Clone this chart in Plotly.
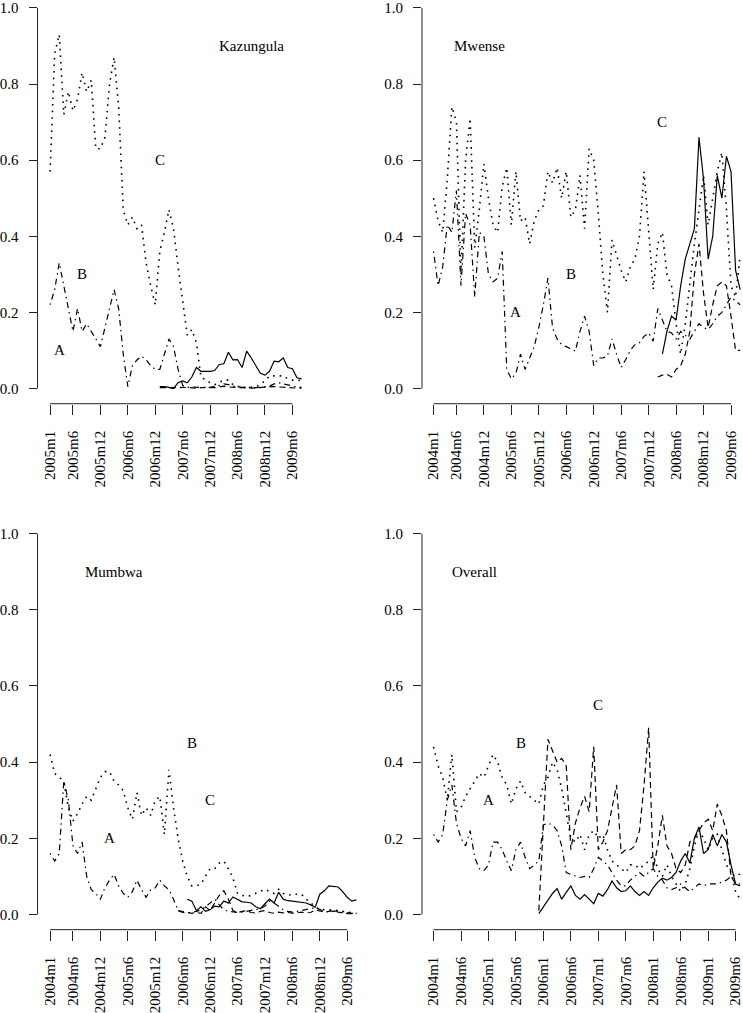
import plotly.graph_objects as go

W, H = 743, 1013

# ---------------- data (month index: 2004m1 = 0) ----------------
# Kazungula
kaz_start_dotted = 12
kaz_dotted = [0.57, 0.88, 0.93, 0.72, 0.78, 0.73, 0.76, 0.83, 0.78, 0.81,
              0.63, 0.63, 0.66, 0.80, 0.87, 0.74, 0.47, 0.43, 0.45, 0.42,
              0.43, 0.33, 0.27, 0.22, 0.36, 0.41, 0.47, 0.42, 0.32, 0.23,
              0.14, 0.155, 0.12, 0.03, 0.022, 0.015, 0.01, 0.015, 0.022, 0.022,
              0.01, 0.005, 0.005, 0.002, 0.003, 0.005, 0.01, 0.02, 0.033, 0.033,
              0.033, 0.033, 0.025, 0.022, 0.022, 0.02]
kaz_start_dotdash = 12
kaz_dotdash = [0.22, 0.26, 0.33, 0.27, 0.21, 0.15, 0.21, 0.15, 0.17, 0.15,
               0.13, 0.11, 0.16, 0.21, 0.26, 0.21, 0.09, 0.005, 0.06, 0.075,
               0.085, 0.075, 0.06, 0.05, 0.05, 0.09, 0.13, 0.11, 0.05, 0.008,
               0.003, 0.004, 0.003, 0.003, 0.002, 0.003, 0.005, 0.008, 0.012, 0.01,
               0.006, 0.004, 0.003, 0.003, 0.002, 0.002, 0.003, 0.004, 0.006, 0.012,
               0.015, 0.012, 0.009, 0.006, 0.004, 0.003]
kaz_start_solid = 36
kaz_solid = [0.005, 0.005, 0.003, 0.0, 0.015, 0.02, 0.015, 0.03, 0.055, 0.045,
             0.045, 0.045, 0.047, 0.063, 0.065, 0.095, 0.075, 0.076, 0.055, 0.098,
             0.08, 0.06, 0.04, 0.035, 0.045, 0.072, 0.07, 0.08, 0.055, 0.052,
             0.028, 0.025]
kaz_start_dashed = 36
kaz_dashed = [0.002, 0.002, 0.001, 0.001, 0.002, 0.003, 0.002, 0.001, 0.001, 0.002,
              0.003, 0.002, 0.002, 0.004, 0.006, 0.004, 0.003, 0.002, 0.002, 0.001,
              0.001, 0.002, 0.003, 0.004, 0.004, 0.005, 0.004, 0.003, 0.003, 0.002,
              0.001, 0.001]

# Mwense
mw_start_dotted = 0
mw_dotted = [0.50, 0.44, 0.41, 0.55, 0.74, 0.70, 0.30, 0.60, 0.71, 0.37,
             0.47, 0.59, 0.50, 0.43, 0.41, 0.53, 0.58, 0.43, 0.57, 0.44,
             0.45, 0.38, 0.44, 0.47, 0.48, 0.57, 0.54, 0.58, 0.50, 0.57,
             0.45, 0.47, 0.56, 0.42, 0.63, 0.60, 0.46, 0.30, 0.20, 0.39,
             0.35, 0.31, 0.28, 0.32, 0.34, 0.40, 0.57, 0.42, 0.26, 0.38,
             0.41, 0.30, 0.27, 0.17, 0.09, 0.17, 0.28, 0.38, 0.47, 0.56,
             0.43, 0.50, 0.57, 0.62, 0.47, 0.27, 0.24, 0.35]
mw_start_dotdash = 0
mw_dotdash = [0.36, 0.27, 0.32, 0.43, 0.41, 0.52, 0.27, 0.46, 0.43, 0.24,
              0.41, 0.40, 0.30, 0.28, 0.29, 0.36, 0.05, 0.025, 0.04, 0.09,
              0.05, 0.08, 0.11, 0.16, 0.22, 0.29, 0.16, 0.13, 0.115, 0.11,
              0.105, 0.098, 0.15, 0.19, 0.15, 0.06, 0.08, 0.08, 0.085, 0.13,
              0.09, 0.055, 0.076, 0.10, 0.115, 0.12, 0.137, 0.146, 0.124, 0.21,
              0.18, 0.15, 0.146, 0.13, 0.15, 0.14, 0.13, 0.15, 0.17, 0.16,
              0.155, 0.17, 0.19, 0.20, 0.22, 0.24, 0.23, 0.22]
mw_start_dashed = 49
mw_dashed = [0.03, 0.035, 0.037, 0.03, 0.05, 0.06, 0.09, 0.15, 0.30, 0.38,
             0.25, 0.16, 0.22, 0.27, 0.28, 0.27, 0.19, 0.10, 0.10]
mw_start_solid = 50
mw_solid = [0.09, 0.15, 0.19, 0.18, 0.27, 0.34, 0.38, 0.42, 0.66, 0.55,
            0.34, 0.40, 0.56, 0.50, 0.61, 0.57, 0.31, 0.26]

# Mumbwa
mu_start_dotted = 0
mu_dotted = [0.42, 0.37, 0.36, 0.35, 0.28, 0.245, 0.265, 0.29, 0.31, 0.30,
             0.33, 0.36, 0.375, 0.375, 0.35, 0.34, 0.325, 0.28, 0.25, 0.32,
             0.26, 0.28, 0.26, 0.30, 0.31, 0.21, 0.38, 0.28, 0.20, 0.14,
             0.10, 0.075, 0.075, 0.08, 0.10, 0.12, 0.12, 0.135, 0.14, 0.12,
             0.095, 0.055, 0.05, 0.047, 0.05, 0.055, 0.06, 0.066, 0.06, 0.055,
             0.066, 0.055, 0.05, 0.053, 0.053, 0.053, 0.04, 0.03, 0.02, 0.013,
             0.012, 0.012, 0.012, 0.01, 0.008, 0.006, 0.004, 0.003]
mu_start_dotdash = 0
mu_dotdash = [0.16, 0.14, 0.16, 0.35, 0.30, 0.18, 0.16, 0.19, 0.10, 0.065,
              0.055, 0.04, 0.07, 0.09, 0.105, 0.075, 0.055, 0.045, 0.06, 0.09,
              0.065, 0.045, 0.065, 0.07, 0.09, 0.075, 0.065, 0.04, 0.01, 0.005,
              0.004, 0.005, 0.008, 0.012, 0.02, 0.03, 0.04, 0.025, 0.012, 0.008,
              0.006, 0.005, 0.006, 0.008, 0.01, 0.012, 0.015, 0.022, 0.035, 0.03,
              0.02, 0.012, 0.008, 0.006, 0.008, 0.01, 0.012, 0.015, 0.018, 0.012,
              0.008, 0.006, 0.008, 0.01, 0.006, 0.004, 0.003, 0.002]
mu_start_solid = 30
mu_solid = [0.04, 0.035, 0.01, 0.02, 0.008, 0.012, 0.022, 0.02, 0.035, 0.03,
            0.046, 0.04, 0.033, 0.032, 0.03, 0.02, 0.015, 0.028, 0.04, 0.03,
            0.058, 0.04, 0.036, 0.035, 0.033, 0.033, 0.03, 0.025, 0.019, 0.053,
            0.062, 0.075, 0.073, 0.072, 0.06, 0.045, 0.035, 0.038]
mu_start_dashed = 28
mu_dashed = [0.01, 0.008, 0.005, 0.003, 0.005, 0.003, 0.02, 0.01, 0.03, 0.05,
             0.062, 0.04, 0.01, 0.005, 0.008, 0.01, 0.005, 0.004, 0.008, 0.01,
             0.005, 0.003, 0.006, 0.004, 0.005, 0.003, 0.004, 0.006, 0.004, 0.005,
             0.012, 0.01, 0.006, 0.008, 0.01, 0.006, 0.004, 0.002, 0.002, 0.001]

# Overall
ov_start_dotted = 0
ov_dotted = [0.44, 0.39, 0.36, 0.30, 0.42, 0.27, 0.28, 0.31, 0.33, 0.35,
             0.37, 0.36, 0.39, 0.42, 0.40, 0.36, 0.34, 0.29, 0.33, 0.35,
             0.32, 0.31, 0.30, 0.29, 0.34, 0.36, 0.40, 0.38, 0.33, 0.27,
             0.20, 0.19, 0.21, 0.17, 0.21, 0.22, 0.20, 0.21, 0.17, 0.14,
             0.13, 0.12, 0.11, 0.13, 0.13, 0.12, 0.13, 0.14, 0.155, 0.12,
             0.10, 0.13, 0.10, 0.08, 0.06, 0.08, 0.12, 0.18, 0.22, 0.20,
             0.17, 0.20, 0.21, 0.17, 0.13, 0.11, 0.06, 0.04]
ov_start_dotdash = 0
ov_dotdash = [0.21, 0.19, 0.21, 0.30, 0.34, 0.24, 0.20, 0.18, 0.22, 0.15,
              0.12, 0.115, 0.13, 0.19, 0.19, 0.17, 0.14, 0.115, 0.17, 0.19,
              0.15, 0.12, 0.13, 0.14, 0.235, 0.24, 0.235, 0.22, 0.18, 0.11,
              0.105, 0.10, 0.097, 0.10, 0.097, 0.12, 0.15, 0.14, 0.13, 0.11,
              0.09, 0.075, 0.075, 0.09, 0.10, 0.11, 0.10, 0.11, 0.12, 0.10,
              0.09, 0.07, 0.065, 0.07, 0.08, 0.07, 0.06, 0.07, 0.08, 0.075,
              0.08, 0.08, 0.08, 0.085, 0.09, 0.10, 0.105, 0.105]
ov_start_dashed = 23
ov_dashed = [0.01, 0.25, 0.46, 0.43, 0.40, 0.41, 0.39, 0.17, 0.24, 0.28,
             0.31, 0.27, 0.44, 0.17, 0.19, 0.22, 0.28, 0.34, 0.16, 0.17,
             0.17, 0.18, 0.22, 0.34, 0.49, 0.12, 0.18, 0.26, 0.18, 0.16,
             0.12, 0.11, 0.13, 0.19, 0.20, 0.22, 0.24, 0.25, 0.22, 0.29,
             0.26, 0.22, 0.10, 0.08, 0.08]
ov_start_solid = 23
ov_solid = [0.002, 0.02, 0.04, 0.055, 0.068, 0.04, 0.058, 0.075, 0.05, 0.04,
            0.052, 0.04, 0.028, 0.055, 0.048, 0.065, 0.088, 0.07, 0.06, 0.062,
            0.075, 0.06, 0.05, 0.06, 0.05, 0.07, 0.085, 0.095, 0.09, 0.097,
            0.11, 0.14, 0.16, 0.135, 0.20, 0.23, 0.16, 0.17, 0.21, 0.18,
            0.21, 0.19, 0.13, 0.08, 0.075]

# tick labels
kaz_tickvals = [12, 17, 23, 29, 35, 41, 47, 53, 59, 65]
kaz_ticktext = ["2005m1", "2005m6", "2005m12", "2006m6", "2006m12", "2007m6",
                "2007m12", "2008m6", "2008m12", "2009m6"]
std_tickvals = [0, 5, 11, 17, 23, 29, 35, 41, 47, 53, 59, 65]
std_ticktext = ["2004m1", "2004m6", "2004m12", "2005m6", "2005m12", "2006m6",
                "2006m12", "2007m6", "2007m12", "2008m6", "2008m12", "2009m6"]
ov_tickvals = [0, 6, 12, 18, 24, 30, 36, 42, 48, 54, 60, 66]
ov_ticktext = ["2004m1", "2004m6", "2005m1", "2005m6", "2006m1", "2006m6",
               "2007m1", "2007m6", "2008m1", "2008m6", "2009m1", "2009m6"]

y_tickvals = [0, 0.2, 0.4, 0.6, 0.8, 1.0]
y_ticktext = ["0.0", "0.2", "0.4", "0.6", "0.8", "1.0"]

# ---------------- styling ----------------
FONT = "Liberation Serif"
INK = "#222222"
LINE_STYLES = {
    "solid": dict(color="black", width=1.2),
    "dashed": dict(color="black", width=1.2, dash="6px,4px"),
    "dotted": dict(color="black", width=1.6, dash="1.6px,5px"),
    "dotdash": dict(color="black", width=1.2, dash="1.5px,4px,6px,4px"),
}

panels = [
    dict(name="Kazungula", ax="", px0=49.3 - 12 * 4.59, ppm=4.59, L=36.7, R=316,
         T=0.0, B=404.7, py0=389.3, s=384.3,
         tickvals=kaz_tickvals, ticktext=kaz_ticktext,
         series=[("dotted", kaz_start_dotted, kaz_dotted),
                 ("dotdash", kaz_start_dotdash, kaz_dotdash),
                 ("dashed", kaz_start_dashed, kaz_dashed),
                 ("solid", kaz_start_solid, kaz_solid)],
         labels=[("Kazungula", 56, 0.9), ("C", 36, 0.6), ("B", 19, 0.3), ("A", 14, 0.1)]),
    dict(name="Mwense", ax="2", px0=434.3, ppm=4.595, L=422.7, R=743,
         T=0.0, B=404.7, py0=389.3, s=384.3,
         tickvals=std_tickvals, ticktext=std_ticktext,
         series=[("dotted", mw_start_dotted, mw_dotted),
                 ("dotdash", mw_start_dotdash, mw_dotdash),
                 ("dashed", mw_start_dashed, mw_dashed),
                 ("solid", mw_start_solid, mw_solid)],
         labels=[("Mwense", 10, 0.9), ("C", 50, 0.7), ("B", 30, 0.3), ("A", 18, 0.2)]),
    dict(name="Mumbwa", ax="3", px0=49.3, ppm=4.59, L=36.7, R=362,
         T=520.6, B=935.9, py0=920.5, s=384.5,
         tickvals=std_tickvals, ticktext=std_ticktext,
         series=[("dotted", mu_start_dotted, mu_dotted),
                 ("dotdash", mu_start_dotdash, mu_dotdash),
                 ("dashed", mu_start_dashed, mu_dashed),
                 ("solid", mu_start_solid, mu_solid)],
         labels=[("Mumbwa", 14, 0.9), ("B", 31, 0.45), ("C", 35, 0.3), ("A", 13, 0.2)]),
    dict(name="Overall", ax="4", px0=434.3, ppm=4.595, L=422.7, R=743,
         T=520.6, B=935.9, py0=920.5, s=384.5,
         tickvals=ov_tickvals, ticktext=ov_ticktext,
         series=[("dotted", ov_start_dotted, ov_dotted),
                 ("dotdash", ov_start_dotdash, ov_dotdash),
                 ("dashed", ov_start_dashed, ov_dashed),
                 ("solid", ov_start_solid, ov_solid)],
         labels=[("Overall", 9, 0.9), ("C", 36, 0.55), ("B", 19, 0.45), ("A", 12, 0.3)]),
]

fig = go.Figure()
layout = dict(width=W, height=H, margin=dict(l=0, r=0, t=0, b=0),
              paper_bgcolor="white", plot_bgcolor="white", showlegend=False,
              font=dict(family=FONT, size=15, color="black"))
shapes = []
annotations = []

for p in panels:
    xa = "x" + p["ax"]
    ya = "y" + p["ax"]
    for style, start, vals in p["series"]:
        xs = list(range(start, start + len(vals)))
        fig.add_trace(go.Scatter(x=xs, y=vals, mode="lines", line=LINE_STYLES[style],
                                 xaxis=xa, yaxis=ya, hoverinfo="skip", cliponaxis=True))
    xr = [(p["L"] - p["px0"]) / p["ppm"], (p["R"] - p["px0"]) / p["ppm"]]
    yr = [(p["py0"] - p["B"]) / p["s"], (p["py0"] - p["T"]) / p["s"]]
    layout["xaxis" + p["ax"]] = dict(
        domain=[p["L"] / W, p["R"] / W], range=xr, anchor=ya,
        tickvals=p["tickvals"], ticktext=p["ticktext"], tickangle=-90,
        ticks="outside", ticklen=10, tickwidth=1, tickcolor=INK,
        showline=False, showgrid=False, zeroline=False, ticklabeloverflow="allow",
        tickfont=dict(family=FONT, size=15, color="black"), ticklabelstandoff=10)
    layout["yaxis" + p["ax"]] = dict(
        domain=[1 - p["B"] / H, 1 - p["T"] / H], range=yr, anchor=xa,
        tickvals=y_tickvals, ticktext=y_ticktext,
        ticks="outside", ticklen=8, tickwidth=1, tickcolor=INK,
        showline=False, showgrid=False, zeroline=False, ticklabeloverflow="allow",
        tickfont=dict(family=FONT, size=15, color="black"), ticklabelstandoff=7)
    # axis lines spanning only the tick range (R-style)
    shapes.append(dict(type="line", xref=xa + " domain", yref=ya, x0=0, x1=0,
                       y0=0, y1=1, line=dict(color=INK, width=1)))
    shapes.append(dict(type="line", xref=xa, yref=ya + " domain",
                       x0=p["tickvals"][0], x1=p["tickvals"][-1], y0=0, y1=0,
                       line=dict(color=INK, width=1)))
    for text, lx, ly in p["labels"]:
        annotations.append(dict(text=text, x=lx, y=ly, xref=xa, yref=ya,
                                showarrow=False, xanchor="center", yanchor="middle",
                                font=dict(family=FONT, size=15, color="black")))

layout["shapes"] = shapes
layout["annotations"] = annotations
fig.update_layout(**layout)
fig.write_html("out.html", config={"displayModeBar": False, "staticPlot": True},
               post_script="document.body.style.margin='0px';document.body.style.overflow='hidden';")
